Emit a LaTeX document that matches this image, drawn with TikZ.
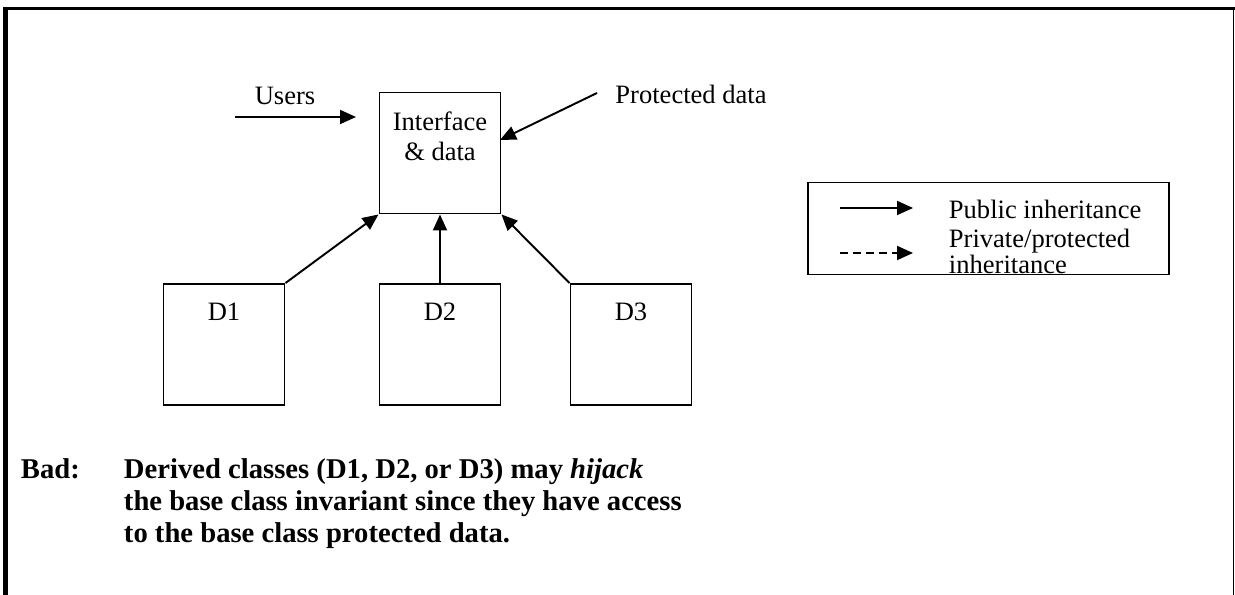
\documentclass[tikz,border=0pt]{standalone}
\usepackage{fontspec}
\setmainfont{Liberation Serif}
\usetikzlibrary{arrows.meta,positioning}

\begin{document}
\begin{tikzpicture}[line width=1.1pt,line join=miter,
    every node/.style={font=\fontsize{15.1}{17}\selectfont,inner sep=0pt},
    cls/.style={draw,minimum width=2.42cm,minimum height=2.42cm},
    inh/.style={-{Triangle[length=3.2mm,width=2.8mm]}},
    priv/.style={inh,dash pattern=on 1.6mm off 1mm}]
  \useasboundingbox (0,0) rectangle (24.7,11.9);
  % page frame
  \draw[line width=2.3pt] (0.11,0) -- (0.11,11.76);
  \draw[line width=1.7pt] (0.07,11.73) -- (24.7,11.73);
  \draw[line width=0.85pt] (24.67,11.73) -- (24.67,0);
  % base class and derived classes
  \node[cls] (base) at (8.8,8.84) {};
  \node[anchor=north,align=center] (basetxt) at (8.8,9.68) {Interface\\\& data};
  \node[cls] (D1) at (4.48,5.01) {};
  \node[cls] (D2) at (8.8,5.01) {};
  \node[cls] (D3) at (12.62,5.01) {};
  \node[anchor=north] (D1txt) at (4.48,5.86) {D1};
  \node[anchor=north] (D2txt) at (8.8,5.86) {D2};
  \node[anchor=north] (D3txt) at (12.62,5.86) {D3};
  \draw[inh] (D1.north east) -- (base.south west);
  \draw[inh] (D2.north) -- (base.south);
  \draw[inh] (D3.north west) -- (base.south east);
  % users and protected data
  \node (users) at (5.7,9.98) {Users};
  \coordinate (usersA) at (4.7,9.56);
  \coordinate (usersB) at (7.12,9.56);
  \draw[inh] (usersA) -- (usersB);
  \node (prot) at (13.82,10.02) {Protected data};
  \coordinate (protA) at (11.94,10.04);
  \coordinate (protB) at (10.0,9.1);
  \draw[inh] (protA) -- (protB);
  % legend
  \node[draw,minimum width=7.22cm,minimum height=1.84cm,inner sep=0pt] (legend)
    at (19.77,7.33) {};
  \coordinate (pubA) at (16.8,7.74);
  \coordinate (pubB) at (18.26,7.74);
  \draw[inh] (pubA) -- (pubB);
  \node[anchor=west] (pubtxt) at (18.96,7.72) {Public inheritance};
  \coordinate (privA) at (16.8,6.84);
  \coordinate (privB) at (18.26,6.84);
  \draw[priv] (privA) -- (privB);
  \node[anchor=west,align=left,font=\fontsize{15.1}{14.5}\selectfont] (privtxt)
    at (18.96,6.87) {Private/protected\\inheritance};
  % remark
  \node[anchor=north west,font=\fontsize{16.3}{18.2}\selectfont\bfseries] (bad)
    at (0.4,2.74) {Bad:};
  \node[anchor=north west,align=left,font=\fontsize{16.3}{18.2}\selectfont\bfseries]
    (badtxt) at (2.46,2.74) {Derived classes (D1, D2, or D3) may \textit{hijack}\\
    the base class invariant since they have access\\
    to the base class protected data.};
\end{tikzpicture}
\end{document}
